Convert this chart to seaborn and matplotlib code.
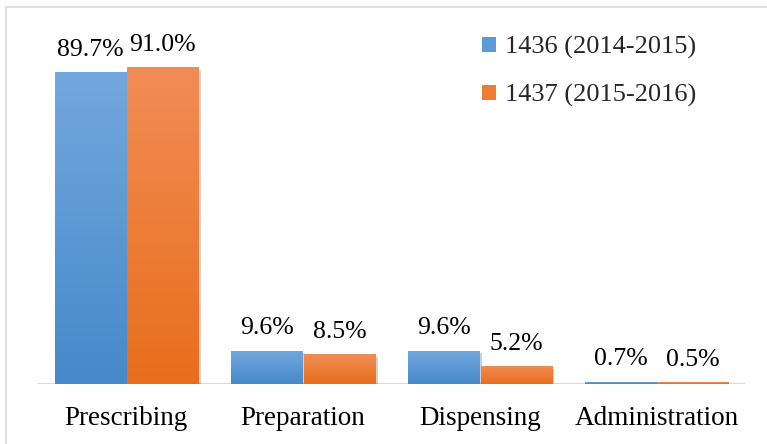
import numpy as np
import pandas as pd
import matplotlib
matplotlib.use("Agg")
import matplotlib.pyplot as plt
import matplotlib.patheffects as pe
from matplotlib.colors import LinearSegmentedColormap
from matplotlib.lines import Line2D
from matplotlib.patches import Patch
import seaborn as sns

categories = ["Prescribing", "Preparation", "Dispensing", "Administration"]
series_names = ["1436 (2014-2015)", "1437 (2015-2016)"]
values_1436 = [89.7, 9.6, 9.6, 0.7]
values_1437 = [91.0, 8.5, 5.2, 0.5]
labels_1436 = ["89.7%", "9.6%", "9.6%", "0.7%"]
labels_1437 = ["91.0%", "8.5%", "5.2%", "0.5%"]

colors = ["#5B9BD5", "#ED7D31"]
grad_top = ["#72A8DD", "#F18D56"]
grad_bot = ["#4689CA", "#E86E1B"]

df = pd.DataFrame({
    "category": categories * 2,
    "series": [series_names[0]] * 4 + [series_names[1]] * 4,
    "value": values_1436 + values_1437,
})

sns.set_theme(style="white")
plt.rcParams["font.family"] = ["Liberation Serif", "DejaVu Serif"]

fig = plt.figure(figsize=(7.67, 4.44), dpi=100)
ax = fig.add_axes([38 / 767, 60 / 444, 707 / 767, 348 / 444])

sns.barplot(data=df, x="category", y="value", hue="series", order=categories,
            hue_order=series_names, palette=colors, width=0.82, gap=0.02,
            ax=ax, legend=False, saturation=1)

ax.set_xlim(-0.5, 3.5)
ax.set_ylim(0, 100)

# gradient fill + shadow
for ci, cont in enumerate(ax.containers):
    cmap = LinearSegmentedColormap.from_list("g%d" % ci, [grad_bot[ci], grad_top[ci]])
    for patch in cont.patches:
        patch.set_edgecolor("none")
        patch.set_path_effects([pe.SimplePatchShadow(offset=(2, -2), shadow_rgbFace="#000000", alpha=0.18),
                                pe.Normal()])
        x0, y0 = patch.get_x(), patch.get_y()
        w, h = patch.get_width(), patch.get_height()
        grad = np.linspace(0, 1, 256).reshape(-1, 1)
        im = ax.imshow(grad, cmap=cmap, origin="lower", aspect="auto",
                       extent=[x0, x0 + w, y0, y0 + h], zorder=patch.get_zorder() + 0.1)
        im.set_clip_path(patch)

ax.set_xlim(-0.5, 3.5)
ax.set_ylim(0, 100)

for cont, labs in zip(ax.containers, [labels_1436, labels_1437]):
    ax.bar_label(cont, labels=labs, padding=8, fontsize=18.5, color="#000000")

ax.axhline(0, color="#D9D9D9", lw=2.2, zorder=0.5)
for s in ax.spines.values():
    s.set_visible(False)
ax.set_yticks([])
ax.set_xlabel("")
ax.set_ylabel("")
ax.tick_params(axis="x", length=0, pad=15.5, labelsize=19.5, labelcolor="#000000")

handles = [Patch(facecolor=c, edgecolor="none") for c in colors]
fig.legend(handles, series_names, loc="upper left",
           bbox_to_anchor=(482 / 767, 1 - 36 / 444), frameon=False, fontsize=19,
           handlelength=0.53, handleheight=0.53, handletextpad=0.35,
           labelspacing=0.95, borderpad=0, borderaxespad=0)

fig.add_artist(Line2D([6 / 767, 1], [1 - 7 / 444, 1 - 7 / 444], color="#D9D9D9", lw=1.2,
                      transform=fig.transFigure))
fig.add_artist(Line2D([6 / 767, 6 / 767], [0, 1 - 7 / 444], color="#D9D9D9", lw=1.2,
                      transform=fig.transFigure))

fig.savefig("out.png", dpi=100)
